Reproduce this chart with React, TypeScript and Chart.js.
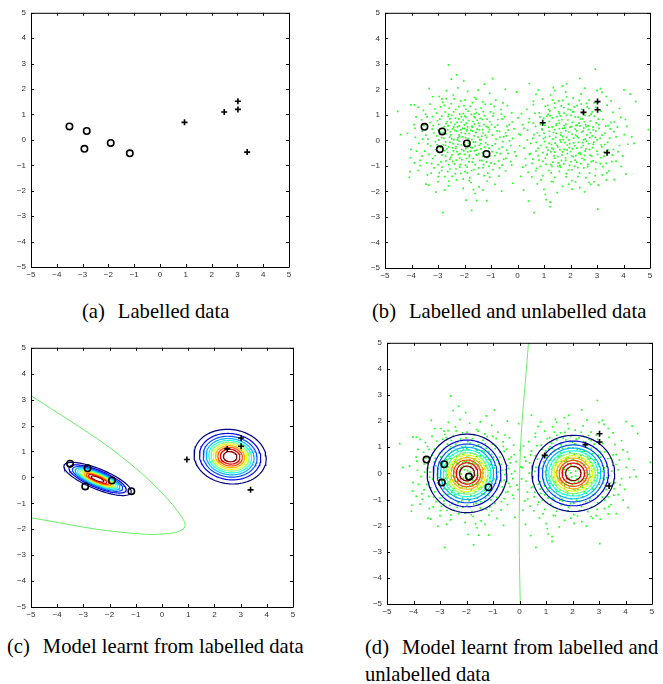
import React, { useEffect, useRef } from 'react';
import { Chart, registerables } from 'chart.js';
Chart.register(...registerables);

// ---------------- DATA ----------------
const AXIS_MIN = -5;
const AXIS_MAX = 5;

const CIRCLE_X = [-3.51, -2.84, -2.93, -1.91, -1.17];
const CIRCLE_Y = [0.53, 0.35, -0.35, -0.12, -0.53];
const PLUS_X = [0.95, 2.49, 3.02, 3.02, 3.38];
const PLUS_Y = [0.69, 1.1, 1.52, 1.2, -0.48];

const UNLABELLED_LEFT: [number, number][] = [
  [-2.85,1.62],[-2.42,1.78],[-2.15,1.55],[-1.88,1.92],[-1.62,1.68],[-1.31,1.51],[-1.05,1.84],[-0.82,1.58],[-2.68,1.95],[-3.2,1.71],[-0.55,1.47],[-1.48,1.97],[-2.25,2.06],
  [-3.55,1.18],[-3.3,1.42],[-3.05,1.07],[-2.9,1.31],[-2.72,1.12],[-2.5,1.44],[-2.33,1.21],[-2.18,1.03],[-2.02,1.36],[-1.86,1.15],[-1.7,1.48],[-1.55,1.09],[-1.38,1.27],[-1.22,1.41],[-1.02,1.12],[-0.88,1.33],[-0.62,1.21],[-0.38,1.36],[-3.75,1.3],[-2.6,1.02],[-1.95,1.22],[-1.45,1.02],[-0.22,1.08],[-2.82,1.49],
  [-3.9,0.62],[-3.62,0.81],[-3.41,0.92],[-3.18,0.58],[-3.02,0.77],[-2.86,0.95],[-2.7,0.66],[-2.55,0.84],[-2.41,0.52],[-2.28,0.71],[-2.12,0.93],[-2.0,0.61],[-1.85,0.78],[-1.72,0.56],[-1.6,0.89],[-1.47,0.67],[-1.33,0.82],[-1.18,0.54],[-1.05,0.73],[-0.92,0.95],[-0.75,0.61],[-0.58,0.84],[-0.4,0.55],[-0.2,0.72],[0.02,0.88],[-2.48,0.98],[-2.2,0.57],[-1.95,0.9],[-1.68,0.74],[-2.62,0.57],[-3.3,0.7],[-1.25,0.97],[-0.85,0.52],[-2.05,0.8],
  [-4.15,0.28],[-3.85,0.12],[-3.6,0.36],[-3.38,0.05],[-3.22,0.44],[-3.05,0.18],[-2.92,0.32],[-2.78,0.08],[-2.64,0.41],[-2.52,0.22],[-2.4,0.03],[-2.3,0.36],[-2.19,0.15],[-2.08,0.47],[-1.97,0.26],[-1.86,0.06],[-1.76,0.39],[-1.64,0.18],[-1.52,0.44],[-1.42,0.02],[-1.3,0.29],[-1.17,0.12],[-1.06,0.42],[-0.95,0.21],[-0.81,0.05],[-0.68,0.35],[-0.52,0.14],[-0.35,0.4],[-0.18,0.08],[0.05,0.25],[-2.7,0.25],[-2.45,0.45],[-2.12,0.3],[-1.9,0.42],[-1.58,0.31],[-1.35,0.16],[-2.25,0.1],[-1.72,0.03],[-1.1,0.33],[-0.45,0.3],
  [-4.02,-0.35],[-3.72,-0.12],[-3.5,-0.42],[-3.28,-0.22],[-3.1,-0.05],[-2.95,-0.47],[-2.8,-0.18],[-2.66,-0.33],[-2.55,-0.08],[-2.42,-0.41],[-2.32,-0.24],[-2.2,-0.03],[-2.1,-0.36],[-1.98,-0.16],[-1.88,-0.45],[-1.77,-0.27],[-1.66,-0.07],[-1.55,-0.38],[-1.44,-0.19],[-1.32,-0.48],[-1.2,-0.1],[-1.08,-0.3],[-0.96,-0.44],[-0.84,-0.14],[-0.7,-0.32],[-0.55,-0.05],[-0.4,-0.38],[-0.25,-0.2],[-0.1,-0.45],[-2.6,-0.25],[-2.25,-0.15],[-1.95,-0.32],[-1.6,-0.22],[-1.38,-0.33],[-2.75,-0.4],[-1.15,-0.42],[-0.3,-0.02],
  [-3.6,-0.62],[-3.42,-0.88],[-3.2,-0.71],[-3.0,-0.95],[-2.85,-0.58],[-2.7,-0.8],[-2.52,-0.66],[-2.38,-0.92],[-2.24,-0.55],[-2.1,-0.75],[-1.96,-0.97],[-1.82,-0.64],[-1.7,-0.85],[-1.56,-0.56],[-1.42,-0.78],[-1.28,-0.95],[-1.14,-0.68],[-1.0,-0.88],[-0.86,-0.6],[-0.72,-0.81],[-0.58,-0.97],[-0.44,-0.7],[-0.05,-0.62],[-2.0,-0.55],[-2.6,-0.95],[-1.6,-0.95],[-0.65,-0.52],[-3.1,-0.6],
  [-3.75,-1.18],[-3.4,-1.35],[-3.15,-1.08],[-2.95,-1.26],[-2.74,-1.42],[-2.55,-1.12],[-2.35,-1.3],[-2.18,-1.05],[-1.98,-1.22],[-1.8,-1.46],[-1.64,-1.14],[-1.48,-1.32],[-1.3,-1.07],[-1.12,-1.28],[-0.92,-1.15],[-0.7,-1.4],[-0.45,-1.2],[-2.85,-1.05],[-1.9,-1.05],
  [-3.0,-1.62],[-2.6,-1.78],[-2.3,-1.55],[-2.05,-1.88],[-1.75,-1.65],[-1.45,-1.82],[-1.15,-1.6],[-0.85,-1.72],[-2.75,-1.95],[-1.3,-1.95],
];

const UNLABELLED_LEFT_CORE: [number, number][] = [
  [-2.37,0.63],[-2.14,0.41],[-1.83,0.27],[-2.56,0.13],[-2.01,-0.08],[-1.71,0.52],[-2.29,-0.44],[-1.49,0.13],[-2.83,0.46],[-2.66,0.73],[-1.93,0.68],[-1.62,-0.41],[-2.47,-0.57],[-1.27,0.62],[-2.18,-0.69],[-1.81,-0.58],[-2.91,-0.27],[-1.39,-0.13],[-2.04,1.05],[-1.58,1.21],[-2.71,-0.62],[-1.12,-0.17],[-2.97,0.63],[-1.67,-0.72],[-2.34,0.87],[-0.98,0.62],[-3.16,0.29],[-0.79,-0.48],[-2.58,1.26],[-1.43,0.57],[-2.16,-0.95],[-1.05,-0.62],[-3.34,-0.55],[-1.74,1.02],[-0.66,0.12],[-2.89,-0.84],[-1.21,0.21],[-2.43,-0.13],[-1.96,0.11],[-1.53,-0.58],[-3.46,0.21],[-0.9,1.06],[-2.76,1.37],[-1.34,-0.79],[-2.22,1.32],[-0.52,-0.73],[-3.24,-0.91],[-1.89,-1.27],[-2.47,-1.41],[-1.08,-1.02],[-3.58,0.05],[-0.31,0.62],[-2.63,-1.22],[-1.56,1.62],[-2.05,-1.52],[-0.74,0.82],[-3.12,1.23],[-1.26,-1.38],[-2.99,-1.42],[-1.66,-1.93],[-0.26,-0.83],[-3.81,-0.42],[-2.39,1.63],[-0.61,1.03],[-1.73,-1.18],[-2.86,0.11],[-2.12,0.72],[-1.41,0.86],[-2.53,0.34],[-1.85,-0.12],[-2.27,0.02],[-1.62,0.64],[-2.01,0.46],[-1.32,0.42],[-2.71,-0.06],[-1.93,-0.71],[-2.45,-0.82],[-1.15,0.83],[-3.03,-0.17],[-0.42,0.18],[-2.62,0.94],[-1.78,1.33],[-0.86,-0.92],[-3.47,1.03],[-2.32,-1.12],[-1.47,-1.08],[-0.13,0.45],[-3.68,-0.78],[-1.01,1.42],[-2.96,1.72],[-1.88,0.53],[-2.2,0.22],
  [-2.51,0.71],[-2.08,0.14],[-1.77,-0.42],[-2.33,-0.31],[-1.52,0.79],[-2.79,0.31],[-1.99,0.95],[-2.64,-0.47],[-1.24,-0.26],[-2.17,-0.52],[-1.69,0.36],[-2.93,0.83],[-1.37,0.03],[-2.41,1.12],[-1.83,-0.84],[-2.72,-0.19],[-1.11,0.51],[-3.09,-0.36],[-1.58,-0.07],[-2.26,0.53],[-0.96,-0.21],[-2.55,-0.73],[-1.92,0.37],[-3.21,0.93],[-1.46,-0.52],[-2.03,-0.41],[-0.77,0.37],[-2.86,-1.18],[-1.63,1.04],[-2.31,-0.77],[-1.29,1.13],[-3.39,-0.14],[-0.58,-0.26],[-2.69,1.64],[-1.82,-1.58],[-2.48,0.06],[-1.17,-0.84],[-3.53,0.58],[-0.49,0.93],[-2.14,-1.29],[-1.55,0.31],[-2.97,0.02],[-1.71,-0.29],[-2.36,0.39],[-0.68,-1.08],[-3.87,0.47],[-1.98,1.58],[-2.59,-1.6],[-1.05,-1.44],[-3.26,-1.28],[-0.36,-0.51],[-2.21,0.84],[-1.44,0.41],[-2.77,0.54],[-1.88,-0.22],[-2.11,-0.18],[-1.64,0.92],[-2.44,-0.29],[-1.31,-0.63],[-2.99,0.4],
];

const UNLABELLED_RIGHT: [number, number][] = [
  [0.95,1.62],[1.25,1.78],[1.55,1.55],[1.82,1.9],[2.1,1.66],[2.4,1.82],[2.7,1.58],[3.0,1.95],[1.4,1.95],[2.55,2.05],[3.35,1.72],[0.7,1.8],
  [0.35,1.22],[0.6,1.4],[0.82,1.08],[1.05,1.33],[1.22,1.15],[1.4,1.46],[1.58,1.05],[1.75,1.28],[1.92,1.42],[2.08,1.12],[2.25,1.36],[2.42,1.22],[2.6,1.45],[2.78,1.03],[2.95,1.3],[3.15,1.15],[3.38,1.38],[3.6,1.1],[3.85,1.25],[1.15,1.02],[2.0,1.2],[2.7,1.25],[1.65,1.35],[0.15,1.05],
  [0.2,0.62],[0.45,0.85],[0.68,0.55],[0.85,0.92],[1.02,0.7],[1.18,0.52],[1.32,0.88],[1.48,0.65],[1.62,0.96],[1.76,0.58],[1.9,0.8],[2.04,0.54],[2.18,0.92],[2.32,0.68],[2.46,0.85],[2.6,0.55],[2.75,0.76],[2.9,0.95],[3.06,0.62],[3.22,0.82],[3.42,0.58],[3.65,0.72],[3.9,0.9],[1.1,0.95],[1.55,0.78],[2.25,0.6],[2.85,0.52],[1.85,0.98],[0.6,0.68],[2.55,0.98],
  [0.1,0.22],[0.38,0.4],[0.58,0.08],[0.75,0.3],[0.92,0.45],[1.05,0.12],[1.2,0.35],[1.34,0.05],[1.46,0.27],[1.58,0.46],[1.7,0.15],[1.82,0.38],[1.94,0.02],[2.06,0.24],[2.18,0.44],[2.3,0.1],[2.42,0.32],[2.55,0.05],[2.68,0.42],[2.82,0.18],[2.96,0.36],[3.12,0.08],[3.3,0.28],[3.5,0.45],[3.72,0.14],[1.0,0.28],[1.65,0.3],[2.2,0.2],[2.75,0.3],[1.4,0.42],[2.5,0.48],[1.85,0.12],[3.0,0.02],
  [0.25,-0.3],[0.5,-0.12],[0.7,-0.42],[0.88,-0.2],[1.02,-0.05],[1.15,-0.38],[1.28,-0.16],[1.4,-0.46],[1.52,-0.25],[1.64,-0.07],[1.76,-0.35],[1.88,-0.18],[2.0,-0.44],[2.12,-0.1],[2.24,-0.3],[2.36,-0.48],[2.48,-0.2],[2.6,-0.04],[2.72,-0.36],[2.86,-0.15],[3.0,-0.42],[3.18,-0.25],[3.4,-0.08],[3.62,-0.35],[3.85,-0.2],[1.3,-0.3],[1.95,-0.28],[2.55,-0.42],[1.7,-0.45],[2.3,-0.08],[0.95,-0.48],[3.25,-0.46],
  [0.3,-0.72],[0.55,-0.9],[0.78,-0.6],[0.96,-0.82],[1.12,-0.55],[1.26,-0.95],[1.4,-0.7],[1.54,-0.88],[1.68,-0.58],[1.82,-0.78],[1.96,-0.98],[2.1,-0.64],[2.24,-0.85],[2.38,-0.55],[2.52,-0.76],[2.66,-0.94],[2.8,-0.62],[2.96,-0.86],[3.14,-0.68],[3.35,-0.9],[3.58,-0.58],[1.6,-0.98],[2.2,-0.6],[1.05,-0.7],[2.85,-0.8],[0.45,-0.55],
  [0.4,-1.25],[0.72,-1.1],[0.95,-1.38],[1.18,-1.18],[1.4,-1.45],[1.62,-1.05],[1.85,-1.3],[2.05,-1.15],[2.28,-1.42],[2.5,-1.08],[2.72,-1.28],[2.95,-1.12],[3.2,-1.35],[3.45,-1.2],[1.3,-1.02],[2.15,-1.02],[0.2,-1.05],
  [0.75,-1.7],[1.0,-1.92],[1.35,-1.62],[1.7,-1.8],[2.05,-1.58],[2.35,-1.85],[2.7,-1.65],[3.05,-1.75],[1.5,-2.05],[3.35,-1.55],
];

const UNLABELLED_RIGHT_CORE: [number, number][] = [
  [1.63,0.21],[1.97,-0.13],[2.23,0.37],[1.42,-0.11],[2.41,-0.27],[1.78,0.48],[2.07,0.71],[1.21,0.16],[2.62,0.22],[1.53,-0.63],[1.88,-0.52],[2.36,0.57],[1.09,-0.27],[2.74,-0.58],[1.67,0.81],[2.17,-0.77],[0.93,0.41],[2.94,0.12],[1.34,-0.85],[2.52,0.73],[1.46,0.59],[2.83,-0.28],[1.75,-0.92],[2.28,-1.07],[0.78,-0.31],[3.08,0.47],[1.19,0.74],[2.65,-1.03],[1.55,1.12],[2.02,0.98],[0.62,0.23],[3.27,-0.62],[1.27,-1.27],[2.45,1.08],[0.86,-1.02],[3.05,0.83],[1.83,-1.43],[2.82,1.12],[0.48,-0.52],[3.48,0.09],[1.41,1.28],[2.58,-1.46],[1.03,0.59],[3.22,-1.03],[1.71,1.57],[2.19,-1.63],[0.37,0.01],[3.64,0.34],[0.66,1.06],[2.93,-1.38],[1.6,-0.36],[2.12,0.09],[1.94,0.33],[1.36,0.31],[2.49,0.02],[1.81,-0.69],[2.31,-0.51],[1.12,-0.57],[2.67,0.57],[1.49,0.93],[2.07,-0.33],[1.73,0.03],[2.38,0.83],[0.99,0.86],[2.88,-0.07],[1.26,-0.45],[2.14,1.31],[1.58,-1.21],[2.71,0.96],[0.81,-0.77],[3.16,-0.18],[1.92,-1.16],[2.44,-0.71],[1.32,1.58],[3.33,0.56],[0.54,-1.43],[2.76,-1.72],[1.14,1.37],[3.56,-0.83],[1.85,1.71],[0.24,0.47],[3.79,-0.44],[2.33,1.57],[0.89,-1.55],[2.06,-1.91],[4.13,0.55],[3.91,-1.02],[0.08,-0.21],
  [1.71,0.47],[2.16,-0.21],[1.44,0.12],[2.48,0.36],[1.87,-0.37],[2.29,0.91],[1.19,-0.12],[2.69,-0.13],[1.58,0.68],[2.04,-0.61],[1.31,0.53],[2.86,0.41],[1.79,-0.09],[2.39,-0.91],[0.98,0.07],[2.57,0.62],[1.66,-0.79],[3.02,-0.55],[1.23,0.97],[2.21,0.58],[0.71,-0.08],[2.78,-0.83],[1.52,-1.02],[2.12,1.12],[0.87,0.63],[3.19,0.21],[1.38,-0.61],[2.53,-0.59],[1.91,1.22],[2.97,0.69],[0.58,-0.73],[3.41,-0.37],[1.08,-0.94],[2.34,-1.27],[1.76,1.07],[3.12,-0.91],[0.42,0.71],[2.63,1.31],[1.28,-1.61],[3.53,0.71],[1.99,0.52],[2.46,-0.09],[1.61,0.02],[2.25,0.16],[1.83,0.63],[1.35,-0.35],[2.73,0.11],[2.02,-0.83],[1.49,-0.19],[2.58,-0.33],[0.83,0.19],[3.29,-0.16],[1.17,1.21],[2.41,1.42],[0.69,-1.19],[3.37,-1.27],[1.94,-1.71],[2.89,1.47],[0.31,-0.98],[3.77,0.52],
];

const UNLABELLED_OUTER: [number, number][] = [
  [-4.52,1.14],[-4.41,0.23],[-4.02,1.39],[-3.89,1.39],[-3.83,0.92],[-4.04,-0.68],[-4.08,-1.45],[-4.06,-1.22],[-3.89,-0.88],[-3.67,-0.99],[-3.45,-1.71],[-3.35,-1.75],[-3.08,-2.03],[-2.82,-2.83],[-2.6,2.96],[-2.3,2.57],[-3.33,2.03],[-2.03,2.33],[-2.5,2.4],[-1.73,-2.74],[-1.94,-2.34],[-1.6,-2.08],[-1.25,2.2],[-0.94,2.42],[-0.46,2.0],[-0.03,1.9],[-0.18,-1.68],[-0.22,-0.96],[-0.6,-1.99],[-1.54,-2.36],[-1.16,-2.36],
  [0.13,-1.41],[0.23,-1.95],[0.42,-2.38],[0.62,-2.83],[0.45,2.23],[0.6,1.53],[0.79,1.97],[1.08,-2.32],[1.23,-2.42],[1.23,-2.6],[1.05,-2.12],[1.35,2.07],[1.69,2.13],[1.86,2.22],[2.35,2.43],[2.94,2.79],[3.03,-2.69],[2.53,-2.02],[2.89,-1.62],[3.13,2.03],[3.19,1.88],[3.53,1.55],[4.02,1.98],[4.25,1.81],[4.46,1.52],[4.07,0.82],[4.03,0.23],[4.31,0.14],[4.4,-0.12],[4.16,-0.15],[3.97,-0.61],[4.09,-1.31],[3.65,-1.54],[4.94,0.42],[3.72,-0.81],
];

// Gaussian contour parameters: [meanX, meanY, sigmaMajor, sigmaMinor, angleDeg]
const C_GAUSS_LEFT = [-2.46, -0.06, 0.62, 0.175, -22.5];
const C_GAUSS_RIGHT = [2.6, 0.8, 0.62, 0.47, -8];
const D_GAUSS_LEFT = [-1.98, 0.0, 0.675, 0.675, 0];
const D_GAUSS_RIGHT = [2.03, 0.0, 0.7, 0.655, 0];
// contour level radii in units of sigma (outer -> inner)
const LEVEL_SCALE = [2.229, 1.893, 1.665, 1.482, 1.323, 1.177, 1.038, 0.9, 0.759, 0.604, 0.417];
const LEVEL_COLORS = ['#000080', '#0000e6', '#004dff', '#00b3ff', '#1affe6', '#80ff80', '#e6ff1a', '#ffb300', '#ff4d00', '#e60000', '#800000'];

const C_BOUND_X = [-5, -4, -3, -2, -1, -0.5, 0, 0.4, 0.7, 0.87, 0.85, 0.6, 0.2, -0.5, -1.5, -2.5, -3.5, -4.3, -5];
const C_BOUND_Y = [3.15, 2.5, 1.85, 1.15, 0.35, -0.1, -0.6, -1.05, -1.45, -1.75, -1.95, -2.1, -2.17, -2.2, -2.12, -2.0, -1.83, -1.68, -1.56];
const D_BOUND_X = [0.34, 0.22, 0.09, 0.02, 0.0, -0.01, 0.0, 0.03];
const D_BOUND_Y = [5, 3.5, 1.9, 0.5, -0.5, -2, -3.5, -5];

// ---------------- HELPERS ----------------
const PAD_L = 30, PAD_T = 6, PAD_R = 6, PAD_B = 20;
const TICK_FONT = { family: 'Liberation Sans, Arial, sans-serif', size: 8 };
const fmt = (v: any) => (Number(v) < 0 ? '\u2212' + String(-Number(v)) : String(v));

function ellipse(mx: number, my: number, a: number, b: number, ang: number) {
  const th = (ang * Math.PI) / 180;
  const pts = [];
  const n = 90;
  for (let i = 0; i <= n; i++) {
    const t = (i / n) * Math.PI * 2;
    const ca = Math.cos(t) * a, sb = Math.sin(t) * b;
    pts.push({ x: mx + ca * Math.cos(th) - sb * Math.sin(th), y: my + ca * Math.sin(th) + sb * Math.cos(th) });
  }
  return pts;
}

function contourSets(g: number[]) {
  const [mx, my, sa, sb, ang] = g;
  return LEVEL_SCALE.map((k, i) => ({
    data: ellipse(mx, my, sa * k, sb * k, ang),
    showLine: true, pointRadius: 0, borderColor: LEVEL_COLORS[i], borderWidth: 1.2, tension: 0, order: 2,
  }));
}

const toPts = (xs: number[], ys: number[]) => xs.map((x, i) => ({ x, y: ys[i] }));

function markerSets() {
  return [
    { data: toPts(CIRCLE_X, CIRCLE_Y), pointStyle: 'circle', pointRadius: 3.2, borderWidth: 1.6, borderColor: '#000', backgroundColor: 'rgba(0,0,0,0)', order: 0 },
    { data: toPts(PLUS_X, PLUS_Y), pointStyle: 'cross', pointRadius: 3, borderWidth: 1.6, borderColor: '#000', order: 0 },
  ];
}

function dotSet() {
  const all = [...UNLABELLED_LEFT, ...UNLABELLED_LEFT_CORE, ...UNLABELLED_RIGHT, ...UNLABELLED_RIGHT_CORE, ...UNLABELLED_OUTER].map(([x, y]) => ({ x, y }));
  return { data: all, pointStyle: 'rect', pointRadius: 1.2, borderWidth: 0, backgroundColor: '#22ff22', order: 4 };
}

function boundSet(xs: number[], ys: number[]) {
  return { data: toPts(xs, ys), showLine: true, pointRadius: 0, borderColor: '#66f066', borderWidth: 1, tension: 0.3, order: 3 };
}

const boxPlugin = {
  id: 'matlabBox',
  afterDraw(chart: any) {
    const { ctx, chartArea } = chart;
    const { left, top, right, bottom } = chartArea;
    ctx.save();
    ctx.strokeStyle = '#000';
    ctx.lineWidth = 1;
    ctx.beginPath();
    ctx.rect(left + 0.5, top + 0.5, right - left, bottom - top);
    ctx.stroke();
    ctx.beginPath();
    const xs = chart.scales.x, ys = chart.scales.y;
    xs.ticks.forEach((t: any) => {
      const p = Math.round(xs.getPixelForValue(t.value)) + 0.5;
      ctx.moveTo(p, bottom); ctx.lineTo(p, bottom - 3);
      ctx.moveTo(p, top); ctx.lineTo(p, top + 3);
    });
    ys.ticks.forEach((t: any) => {
      const p = Math.round(ys.getPixelForValue(t.value)) + 0.5;
      ctx.moveTo(left, p); ctx.lineTo(left + 3, p);
      ctx.moveTo(right, p); ctx.lineTo(right - 3, p);
    });
    ctx.stroke();
    ctx.restore();
  },
};

function Panel({ box, datasets }: { box: number[]; datasets: any[] }) {
  const ref = useRef<HTMLCanvasElement>(null);
  const [L, T, R, B] = box;
  const w = R - L + PAD_L + PAD_R;
  const h = B - T + PAD_T + PAD_B;
  useEffect(() => {
    const chart = new Chart(ref.current as HTMLCanvasElement, {
      type: 'scatter',
      data: { datasets },
      options: {
        animation: false,
        responsive: false,
        devicePixelRatio: 1,
        events: [],
        layout: { padding: { left: 0, top: PAD_T, right: PAD_R, bottom: 0 }, autoPadding: false },
        plugins: { legend: { display: false }, tooltip: { enabled: false } },
        scales: {
          x: {
            type: 'linear', min: AXIS_MIN, max: AXIS_MAX,
            afterFit: (s: any) => { s.height = PAD_B; },
            grid: { display: false, drawTicks: false }, border: { display: false },
            ticks: { stepSize: 1, autoSkip: false, maxRotation: 0, padding: 3, font: TICK_FONT, color: '#333', callback: fmt },
          },
          y: {
            type: 'linear', min: AXIS_MIN, max: AXIS_MAX,
            afterFit: (s: any) => { s.width = PAD_L; },
            grid: { display: false, drawTicks: false }, border: { display: false },
            ticks: { stepSize: 1, autoSkip: false, padding: 5, font: TICK_FONT, color: '#333', callback: fmt },
          },
        },
      } as any,
      plugins: [boxPlugin],
    } as any);
    return () => chart.destroy();
  }, []);
  return (
    <canvas
      ref={ref}
      width={w}
      height={h}
      style={{ position: 'absolute', left: L - PAD_L, top: T - PAD_T, width: w, height: h }}
    />
  );
}

const capStyle: React.CSSProperties = {
  position: 'absolute', fontFamily: '"Liberation Serif", "Times New Roman", serif', fontSize: 20.6,
  lineHeight: '20.6px', color: '#000', whiteSpace: 'nowrap',
};

function Caption({ left, top, tag, text }: { left: number; top: number; tag: string; text: string }) {
  return (
    <div style={{ ...capStyle, left, top }}>
      <span>{tag}</span><span style={{ marginLeft: 13 }}>{text}</span>
    </div>
  );
}

export default function App() {
  const panelA = markerSets();
  const panelB = [...markerSets(), dotSet()];
  const panelC = [...markerSets(), ...contourSets(C_GAUSS_LEFT), ...contourSets(C_GAUSS_RIGHT), boundSet(C_BOUND_X, C_BOUND_Y)];
  const panelD = [...markerSets(), ...contourSets(D_GAUSS_LEFT), ...contourSets(D_GAUSS_RIGHT), boundSet(D_BOUND_X, D_BOUND_Y), dotSet()];
  return (
    <div style={{ position: 'absolute', left: 0, top: 0, width: 663, height: 684, background: '#fff', overflow: 'hidden' }}>
      <Panel box={[31, 9, 289, 267]} datasets={panelA} />
      <Panel box={[385, 9, 650, 268]} datasets={panelB} />
      <Panel box={[31, 344, 293, 607]} datasets={panelC} />
      <Panel box={[387, 339, 652, 604]} datasets={panelD} />
      <Caption left={82} top={301} tag="(a)" text="Labelled data" />
      <Caption left={372} top={301} tag="(b)" text="Labelled and unlabelled data" />
      <Caption left={7} top={636} tag="(c)" text="Model learnt from labelled data" />
      <Caption left={365} top={637} tag="(d)" text="Model learnt from labelled and" />
      <div style={{ ...capStyle, left: 365, top: 664 }}>unlabelled data</div>
    </div>
  );
}
